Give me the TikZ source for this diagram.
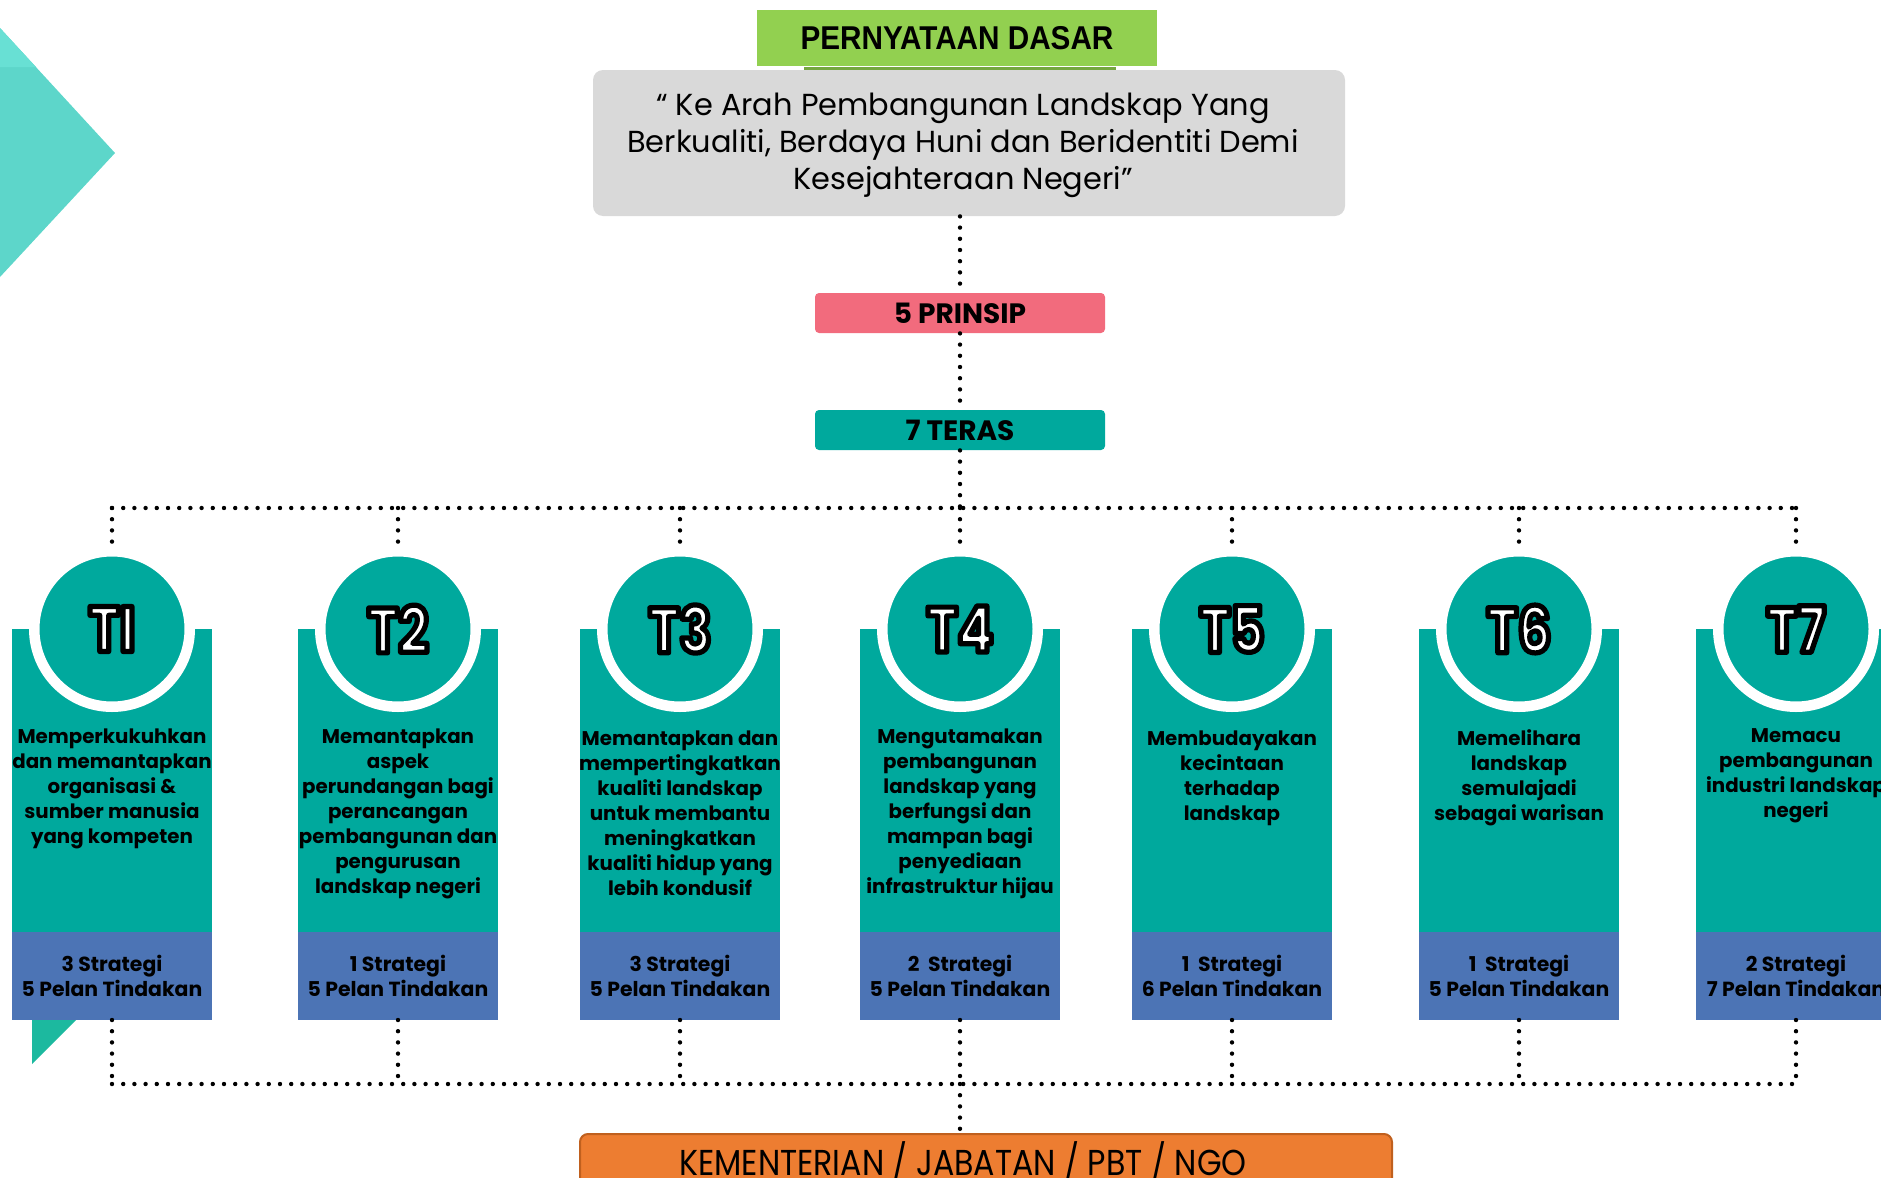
\documentclass[tikz,border=0pt]{standalone}
\usepackage{fontspec}
\setmainfont{Poppins}
\newfontfamily\arialfont{Liberation Sans}[FakeStretch=0.9]
\newfontfamily\tfont{Poppins}[FakeStretch=0.82]
\newfontfamily\kemfont{Poppins}[FakeStretch=0.88]
\usetikzlibrary{positioning}

\newcommand\tlab[1]{\special{pdf:literal direct 2 Tr 2.6 w 1 j 0 0 0 RG}#1\special{pdf:literal direct 0 Tr}}

\definecolor{dasargreen}{HTML}{92D050}
\definecolor{visigray}{HTML}{D9D9D9}
\definecolor{prinsippink}{HTML}{F26B7D}
\definecolor{terasteal}{HTML}{00A99D}
\definecolor{strblue}{HTML}{4C74B5}
\definecolor{kemorange}{HTML}{ED7D31}
\definecolor{kemborder}{HTML}{C0601E}
\definecolor{lightteal}{HTML}{5DD6CA}
\definecolor{paleteal}{HTML}{68E0D4}
\definecolor{cornerteal}{HTML}{1CB99F}

\tikzset{
  dotline/.style={line width=2.2pt, line cap=round, dash pattern=on 0pt off 5.6pt},
  dasarbox/.style={fill=dasargreen, minimum width=200pt, minimum height=28pt, inner sep=0pt, font=\arialfont\bfseries\fontsize{16.5}{18}\selectfont},
  visibox/.style={fill=visigray, rounded corners=5pt, minimum width=376pt, minimum height=73pt},
  visitext/.style={align=center, inner sep=0pt, font=\fontsize{15.2}{18.5}\selectfont},
  headbox/.style={rounded corners=2pt, minimum width=145pt, minimum height=20pt, inner sep=0pt, font=\bfseries\fontsize{14}{16}\selectfont},
  colbox/.style={fill=terasteal, minimum width=100pt, minimum height=151.5pt, anchor=north, inner sep=0pt, outer sep=0pt},
  strbox/.style={fill=strblue, minimum width=100pt, minimum height=44pt, inner sep=0pt, outer sep=0pt, align=center, font=\bfseries\fontsize{10.2}{12.5}\selectfont},
  tcircle/.style={circle, fill=terasteal, draw=white, line width=5.25pt, minimum size=77.75pt, inner sep=0pt, text=white, font=\tfont\bfseries\fontsize{32}{32}\selectfont},
  descr/.style={align=center, inner sep=0pt, font=\bfseries\fontsize{9.9}{12.5}\selectfont},
  kembox/.style={fill=kemorange, draw=kemborder, line width=1pt, rounded corners=4pt, minimum width=406pt, minimum height=50pt, anchor=north},
}

\begin{document}
\begin{tikzpicture}[x=0.5pt, y=-0.5pt]
        \useasboundingbox (0,0) rectangle (1881,1178);
        \fill[lightteal] (0,28) -- (115,153) -- (0,277) -- cycle;
        \fill[paleteal] (0,28) -- (36,67) -- (0,67) -- cycle;
        \fill[cornerteal] (32,1020) -- (76,1020) -- (32,1064) -- cycle;

        \node[dasarbox] (dasar) at (957,38) {PERNYATAAN DASAR};
        \fill[dasargreen!80!black] (804,67) rectangle (1116,70);
        \node[visibox] (visi) at (969,143) {};
        \node[visitext] (visitext) at (963,145) {“ Ke Arah Pembangunan Landskap Yang\\Berkualiti, Berdaya Huni dan Beridentiti Demi\\Kesejahteraan Negeri”};
        \node[headbox, fill=prinsippink] (prinsip) at (960,313) {5 PRINSIP};
        \node[headbox, fill=terasteal] (teras) at (960,430) {7 TERAS};

        \node[colbox] (col1) at (112,629) {};
        \node[strbox, below=0pt of col1] (str1) {3 Strategi\\5 Pelan Tindakan};
        \node[tcircle] (t1) at (col1.north) {\tlab{TI}};
        \node[descr, below=49.5pt of col1.north] (d1) {Memperkukuhkan\\dan memantapkan\\organisasi \&\\sumber manusia\\yang kompeten};

        \node[colbox] (col2) at (398,629) {};
        \node[strbox, below=0pt of col2] (str2) {1 Strategi\\5 Pelan Tindakan};
        \node[tcircle] (t2) at (col2.north) {\tlab{T2}};
        \node[descr, below=49.5pt of col2.north] (d2) {Memantapkan\\aspek\\perundangan bagi\\perancangan\\pembangunan dan\\pengurusan\\landskap negeri};

        \node[colbox] (col3) at (680,629) {};
        \node[strbox, below=0pt of col3] (str3) {3 Strategi\\5 Pelan Tindakan};
        \node[tcircle] (t3) at (col3.north) {\tlab{T3}};
        \node[descr, below=50.5pt of col3.north] (d3) {Memantapkan dan\\mempertingkatkan\\kualiti landskap\\untuk membantu\\meningkatkan\\kualiti hidup yang\\lebih kondusif};

        \node[colbox] (col4) at (960,629) {};
        \node[strbox, below=0pt of col4] (str4) {2~ Strategi\\5 Pelan Tindakan};
        \node[tcircle] (t4) at (col4.north) {\tlab{T4}};
        \node[descr, below=49.5pt of col4.north] (d4) {Mengutamakan\\pembangunan\\landskap yang\\berfungsi dan\\mampan bagi\\penyediaan\\infrastruktur hijau};

        \node[colbox] (col5) at (1232,629) {};
        \node[strbox, below=0pt of col5] (str5) {1~ Strategi\\6 Pelan Tindakan};
        \node[tcircle] (t5) at (col5.north) {\tlab{T5}};
        \node[descr, below=50.5pt of col5.north] (d5) {Membudayakan\\kecintaan\\terhadap\\landskap};

        \node[colbox] (col6) at (1519,629) {};
        \node[strbox, below=0pt of col6] (str6) {1~ Strategi\\5 Pelan Tindakan};
        \node[tcircle] (t6) at (col6.north) {\tlab{T6}};
        \node[descr, below=50pt of col6.north] (d6) {Memelihara\\landskap\\semulajadi\\sebagai warisan};

        \node[colbox] (col7) at (1796,629) {};
        \node[strbox, below=0pt of col7] (str7) {2 Strategi\\7 Pelan Tindakan};
        \node[tcircle] (t7) at (col7.north) {\tlab{T7}};
        \node[descr, below=49.5pt of col7.north] (d7) {Memacu\\pembangunan\\industri landskap\\negeri};

        \node[kembox] (kem) at (986,1133) {};
        \node[inner sep=0pt, font=\kemfont\fontsize{18}{20}\selectfont] (kemtext) at (963,1162) {KEMENTERIAN / JABATAN / PBT / NGO};

        \coordinate (tb1) at (112,508);
        \coordinate (tb2) at (398,508);
        \coordinate (tb3) at (680,508);
        \coordinate (tb4) at (960,508);
        \coordinate (tb5) at (1232,508);
        \coordinate (tb6) at (1519,508);
        \coordinate (tb7) at (1796,508);
        \coordinate (bb1) at (112,1084);
        \coordinate (bb2) at (398,1084);
        \coordinate (bb3) at (680,1084);
        \coordinate (bb4) at (960,1084);
        \coordinate (bb5) at (1232,1084);
        \coordinate (bb6) at (1519,1084);
        \coordinate (bb7) at (1796,1084);

        \draw[dotline] (visi.south -| prinsip.north) -- (prinsip.north);
        \draw[dotline] (prinsip) -- (teras);
        \draw[dotline] (teras) -- (tb4);
        \draw[dotline] (tb1) -- (tb7);
        \draw[dotline] (tb1) -- (t1);
        \draw[dotline] (tb2) -- (t2);
        \draw[dotline] (tb3) -- (t3);
        \draw[dotline] (tb4) -- (t4);
        \draw[dotline] (tb5) -- (t5);
        \draw[dotline] (tb6) -- (t6);
        \draw[dotline] (tb7) -- (t7);
        \draw[dotline] (str1) -- (bb1);
        \draw[dotline] (str2) -- (bb2);
        \draw[dotline] (str3) -- (bb3);
        \draw[dotline] (str4) -- (bb4);
        \draw[dotline] (str5) -- (bb5);
        \draw[dotline] (str6) -- (bb6);
        \draw[dotline] (str7) -- (bb7);
        \draw[dotline] (bb1) -- (bb7);
        \draw[dotline] (bb4) -- (bb4 |- kem.north);
\end{tikzpicture}
\end{document}
